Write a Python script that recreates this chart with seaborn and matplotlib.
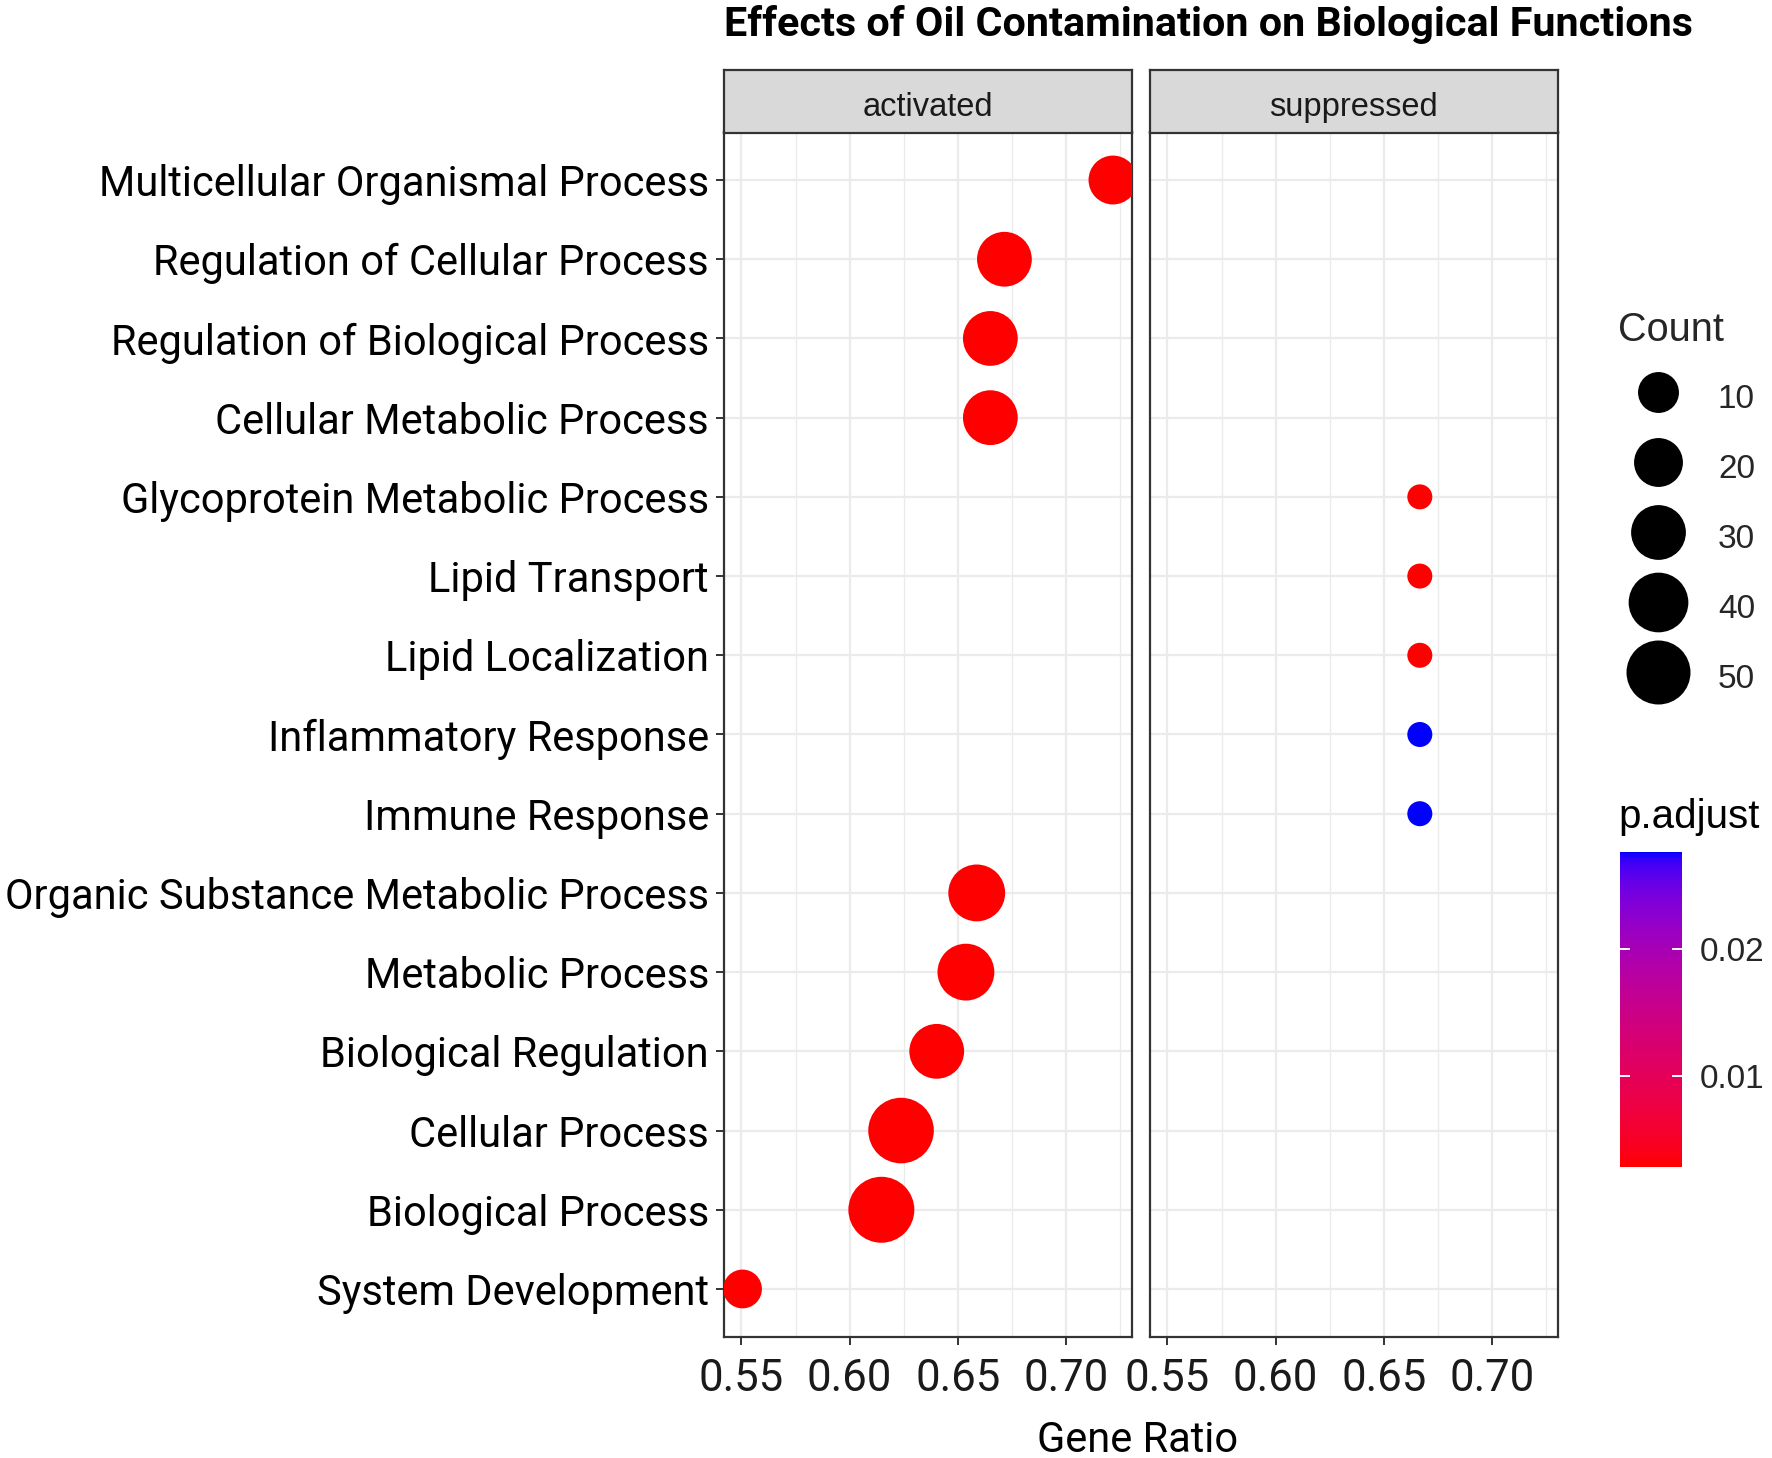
import numpy as np
import pandas as pd
import matplotlib
matplotlib.use("Agg")
import matplotlib.pyplot as plt
import matplotlib.colors as mcolors
from matplotlib.lines import Line2D
from matplotlib.ticker import MultipleLocator, FixedLocator
import seaborn as sns

# ---------------- data ----------------
terms = [
    "Multicellular Organismal Process",
    "Regulation of Cellular Process",
    "Regulation of Biological Process",
    "Cellular Metabolic Process",
    "Glycoprotein Metabolic Process",
    "Lipid Transport",
    "Lipid Localization",
    "Inflammatory Response",
    "Immune Response",
    "Organic Substance Metabolic Process",
    "Metabolic Process",
    "Biological Regulation",
    "Cellular Process",
    "Biological Process",
    "System Development",
]
panels = ["activated", "activated", "activated", "activated",
          "suppressed", "suppressed", "suppressed", "suppressed", "suppressed",
          "activated", "activated", "activated", "activated", "activated", "activated"]
gene_ratio = [0.7218, 0.6716, 0.6651, 0.6651,
              0.6667, 0.6667, 0.6667, 0.6667, 0.6667,
              0.6588, 0.6538, 0.6403, 0.6238, 0.6147, 0.5505]
counts = [20, 30, 30, 30,
          2, 2, 2, 2, 2,
          34, 34, 30, 54, 55, 8]
p_adjust = [0.0028, 0.0028, 0.0028, 0.0028,
            0.0028, 0.0028, 0.0028, 0.0276, 0.0276,
            0.0028, 0.0028, 0.0028, 0.0028, 0.0028, 0.0028]
facet_names = ["activated", "suppressed"]
x_ticks = [0.55, 0.60, 0.65, 0.70]
count_breaks = [10, 20, 30, 40, 50]
padj_breaks = [0.01, 0.02]

df = pd.DataFrame({"Description": terms, "panel": panels, "GeneRatio": gene_ratio,
                   "Count": counts, "p.adjust": p_adjust})
df["row"] = df["Description"].map({t: i for i, t in enumerate(terms)})

# ---------------- styling helpers ----------------
W, H, DPI = 1772, 1458, 100
sns.set_theme(style="white")
plt.rcParams["font.family"] = ["Roboto", "DejaVu Sans"]
ARIAL = ["Liberation Sans", "DejaVu Sans"]


def _srgb_to_lab(c):
    c = np.asarray(c, float)
    lin = np.where(c <= 0.04045, c / 12.92, ((c + 0.055) / 1.055) ** 2.4)
    M = np.array([[0.4124, 0.3576, 0.1805], [0.2126, 0.7152, 0.0722], [0.0193, 0.1192, 0.9505]])
    xyz = M @ lin / np.array([0.95047, 1.0, 1.08883])
    d = 6 / 29
    f = np.where(xyz > d ** 3, np.cbrt(xyz), xyz / (3 * d * d) + 4 / 29)
    return np.array([116 * f[1] - 16, 500 * (f[0] - f[1]), 200 * (f[1] - f[2])])


def _lab_to_srgb(lab):
    L, a, b = lab
    fy = (L + 16) / 116
    fx = fy + a / 500
    fz = fy - b / 200
    d = 6 / 29
    fs = np.array([fx, fy, fz])
    xyz = np.where(fs > d, fs ** 3, 3 * d * d * (fs - 4 / 29)) * np.array([0.95047, 1.0, 1.08883])
    Minv = np.array([[3.2406, -1.5372, -0.4986], [-0.9689, 1.8758, 0.0415], [0.0557, -0.2040, 1.0570]])
    lin = np.clip(Minv @ xyz, 0, 1)
    c = np.where(lin <= 0.0031308, 12.92 * lin, 1.055 * lin ** (1 / 2.4) - 0.055)
    return np.clip(c, 0, 1)


lab_lo = _srgb_to_lab([1, 0, 0])
lab_hi = _srgb_to_lab([0, 0, 1])
cmap = mcolors.ListedColormap([_lab_to_srgb(lab_lo + (lab_hi - lab_lo) * t)
                               for t in np.linspace(0, 1, 256)])
cnorm = mcolors.Normalize(vmin=df["p.adjust"].min(), vmax=df["p.adjust"].max())

# size scale (ggplot-like: diameter linear in sqrt of rescaled value), diameters in pt
d_lo, d_hi = 18.0, 47.5
c_min, c_max = df["Count"].min(), df["Count"].max()


def _fwd(v):
    t = np.clip((np.asarray(v, float) - c_min) / (c_max - c_min), 0, None)
    return (d_lo + (d_hi - d_lo) * np.sqrt(t)) ** 2


def _inv(y):
    dd = np.sqrt(np.clip(np.asarray(y, float), 0, None))
    return c_min + (c_max - c_min) * ((dd - d_lo) / (d_hi - d_lo)) ** 2


snorm = mcolors.FuncNorm((_fwd, _inv), vmin=c_min, vmax=c_max)
size_range = (d_lo ** 2, d_hi ** 2)

# x limits with 5% expansion, y discrete expansion 0.6
xr = df["GeneRatio"].max() - df["GeneRatio"].min()
xlim = (df["GeneRatio"].min() - 0.05 * xr, df["GeneRatio"].max() + 0.05 * xr)
ylim = (len(terms) - 1 + 0.6, -0.6)

fig = plt.figure(figsize=(W / DPI, H / DPI), dpi=DPI)
fig.patch.set_facecolor("white")

ax_left = [724, 1150]
ax_w = 407.5
ax_top, ax_bot = 132.5, 1336.5
strip_top = 70
border_col = "#333333"

for k, name in enumerate(facet_names):
    ax = fig.add_axes([ax_left[k] / W, (H - ax_bot) / H, ax_w / W, (ax_bot - ax_top) / H])
    sub = df[df["panel"] == name]
    sns.scatterplot(data=sub, x="GeneRatio", y="row", hue="p.adjust", size="Count",
                    palette=cmap, hue_norm=cnorm, sizes=size_range, size_norm=snorm,
                    linewidth=0, legend=False, ax=ax, zorder=3)
    ax.set_xlim(*xlim)
    ax.set_ylim(*ylim)
    ax.set_facecolor("white")
    ax.xaxis.set_major_locator(FixedLocator(x_ticks))
    ax.xaxis.set_minor_locator(MultipleLocator(0.025))
    ax.set_xticklabels([f"{v:.2f}" for v in x_ticks])
    ax.yaxis.set_major_locator(FixedLocator(range(len(terms))))
    ax.grid(True, which="major", axis="both", color="#EBEBEB", linewidth=1.6, zorder=0)
    ax.grid(True, which="minor", axis="x", color="#EBEBEB", linewidth=1.0, zorder=0)
    ax.set_axisbelow(True)
    for sp in ax.spines.values():
        sp.set_color(border_col)
        sp.set_linewidth(1.6)
        sp.set_visible(True)
    ax.tick_params(axis="x", which="major", bottom=True, length=5.8, width=1.4,
                   color=border_col, labelsize=31.5, labelcolor="#1A1A1A", pad=9.5)
    ax.tick_params(axis="x", which="minor", bottom=False, length=0)
    if k == 0:
        ax.set_yticklabels(terms)
        ax.tick_params(axis="y", which="major", left=True, length=5.8, width=1.4,
                       color=border_col, labelsize=30, labelcolor="black", pad=5)
    else:
        ax.tick_params(axis="y", which="major", left=False, labelleft=False)
    ax.set_xlabel("")
    ax.set_ylabel("")
    # facet strip
    sax = fig.add_axes([ax_left[k] / W, (H - ax_top) / H, ax_w / W, (ax_top - strip_top) / H])
    sax.set_facecolor("#D9D9D9")
    sax.set_xticks([])
    sax.set_yticks([])
    for sp in sax.spines.values():
        sp.set_color(border_col)
        sp.set_linewidth(1.6)
    sax.text(0.5, 0.40, name, transform=sax.transAxes, ha="center", va="center",
             fontsize=23.5, color="#1A1A1A", family=ARIAL)

# title and x label
fig.text(724 / W, 1 - 36 / H, "Effects of Oil Contamination on Biological Functions",
         ha="left", va="baseline", fontsize=29.7, fontweight="bold", color="black")
fig.text(1138 / W, 1 - 1452 / H, "Gene Ratio", ha="center", va="baseline",
         fontsize=30, color="black")

# size legend
handles = [Line2D([], [], marker="o", linestyle="", color="black", markeredgewidth=0,
                  markersize=np.sqrt(size_range[0] + float(snorm(b)) * (size_range[1] - size_range[0])))
           for b in count_breaks]
leg = fig.legend(handles, [str(b) for b in count_breaks], title="Count",
                 loc="upper left", bbox_to_anchor=(1618 / W, 1 - 311 / H),
                 frameon=False, borderpad=0, borderaxespad=0,
                 handlelength=2.4, handleheight=1.6, labelspacing=0.81, handletextpad=0.6,
                 prop={"family": ARIAL, "size": 24},
                 title_fontproperties={"family": ARIAL, "size": 28.5},
                 alignment="left")

# colour bar
cax = fig.add_axes([1620 / W, (H - 1167) / H, 62 / W, 315 / H])
sm = plt.cm.ScalarMappable(norm=cnorm, cmap=cmap)
cb = fig.colorbar(sm, cax=cax, ticks=padj_breaks)
cb.outline.set_visible(False)
cax.set_axisbelow(False)
cax.yaxis.set_ticklabels([f"{v:.2f}" for v in padj_breaks])
cax.tick_params(axis="y", direction="in", length=7, width=1.4, color="white",
                left=True, right=True, labelleft=False, labelright=True,
                labelsize=24, pad=13)
for t in cax.yaxis.get_major_ticks():
    t.tick1line.set_zorder(5)
    t.tick2line.set_zorder(5)
for lab in cax.get_yticklabels():
    lab.set_family(ARIAL)
fig.text(1618 / W, 1 - 836 / H, "p.adjust", ha="left", va="bottom", fontsize=29,
         family=ARIAL, color="black")

fig.savefig("out.png", dpi=DPI, facecolor="white")
